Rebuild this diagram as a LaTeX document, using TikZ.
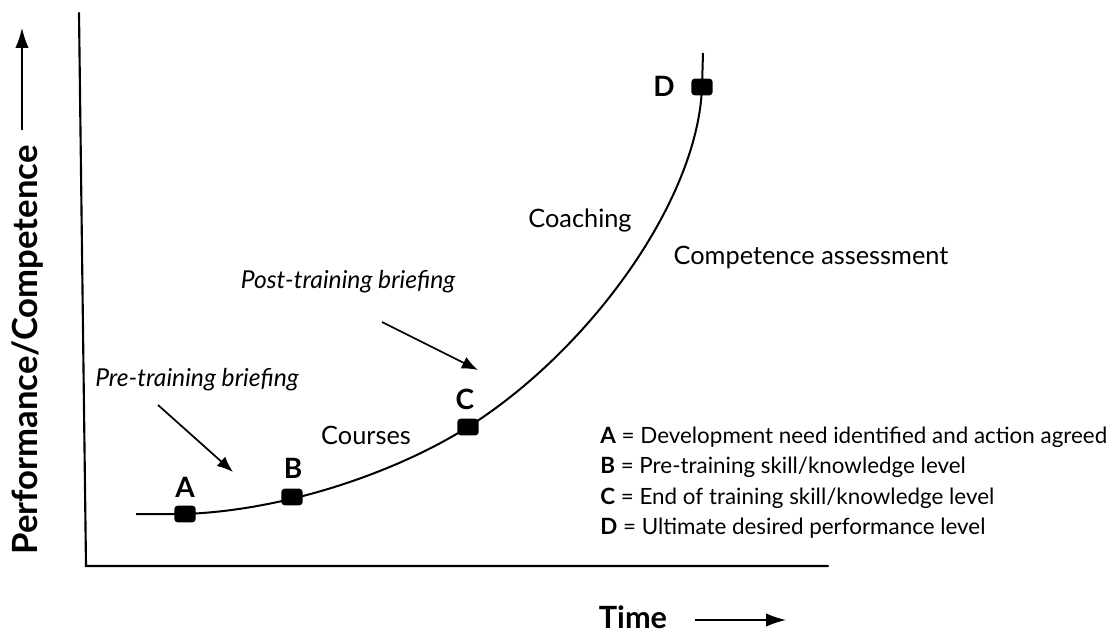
\documentclass[tikz,border=0pt]{standalone}
\usepackage{fontspec}
\setmainfont{Lato}
\usetikzlibrary{arrows.meta}
\begin{document}
\begin{tikzpicture}[x=0.75pt,y=-0.75pt,
  axis/.style={line width=1.6pt, line cap=round},
  curve/.style={line width=1.5pt},
  marker/.style={fill=black, rounded corners=2.5pt, minimum width=16pt, minimum height=12.5pt, inner sep=0pt},
  ptlabel/.style={font=\fontsize{21}{24}\selectfont\bfseries},
  phase/.style={font=\fontsize{19}{22}\selectfont},
  brief/.style={font=\fontsize{18.5}{22}\selectfont\itshape},
  legend/.style={font=\fontsize{16.8}{19}\selectfont, anchor=west, inner sep=0pt},
  axlabel/.style={font=\fontsize{26}{30}\selectfont\bfseries},
  timelabel/.style={font=\fontsize{23}{27}\selectfont\bfseries},
  pointer/.style={line width=1.3pt, -{Latex[length=12pt,width=9.5pt]}},
  axarrow/.style={line width=1pt, -{Latex[length=15pt,width=10pt]}}
]
\useasboundingbox (0,0) rectangle (1114,634);
% axes
\coordinate (ytop) at (79,13);
\coordinate (origin) at (86,566);
\coordinate (xend) at (828,566);
\draw[axis] (ytop) -- (origin) -- (xend);
% curve points
\coordinate (s) at (136,514);
\coordinate (pA) at (185,514);
\coordinate (pB) at (292,497);
\coordinate (pC) at (468,427);
\coordinate (pD) at (702,87);
\coordinate (e) at (703,53);
\draw[curve] (s) -- (pA) .. controls (290,510) and (400,470) .. (pC)
  .. controls (590,350) and (698,200) .. (pD) -- (e);
% markers
\node[marker] (A) at (pA) {};
\node[marker] (B) at (pB) {};
\node[marker] (C) at (pC) {};
\node[marker] (D) at (pD) {};
\node[ptlabel] (lA) at (185,487) {A};
\node[ptlabel] (lB) at (293,468) {B};
\node[ptlabel] (lC) at (465,399) {C};
\node[ptlabel] (lD) at (664,86) {D};
% phase labels
\node[brief] (pre) at (197,380) {Pre-training briefing};
\node[brief] (post) at (348,282) {Post-training briefing};
\coordinate (preS) at (158,405);
\coordinate (preE) at (233,472);
\coordinate (postS) at (382,322);
\coordinate (postE) at (478,370);
\draw[pointer] (preS) -- (preE);
\draw[pointer] (postS) -- (postE);
\node[phase] (courses) at (366,435) {Courses};
\node[phase] (coach) at (580,220) {Coaching};
\node[phase] (assess) at (811,257) {Competence assessment};
% legend
\node[legend] (kA) at (600,437) {\textbf{A} = Development need identified and action agreed};
\node[legend] (kB) at (600,467) {\textbf{B} = Pre-training skill/knowledge level};
\node[legend] (kC) at (600,498) {\textbf{C} = End of training skill/knowledge level};
\node[legend] (kD) at (600,528) {\textbf{D} = Ultimate desired performance level};
% axis labels
\node[axlabel, rotate=90] (ylab) at (28,350) {Performance/Competence};
\coordinate (yaS) at (22,130);
\coordinate (yaE) at (22,28);
\draw[axarrow] (yaS) -- (yaE);
\node[timelabel] (xlab) at (633,617) {Time};
\coordinate (xaS) at (695,620);
\coordinate (xaE) at (786,620);
\draw[axarrow] (xaS) -- (xaE);
\end{tikzpicture}
\end{document}
